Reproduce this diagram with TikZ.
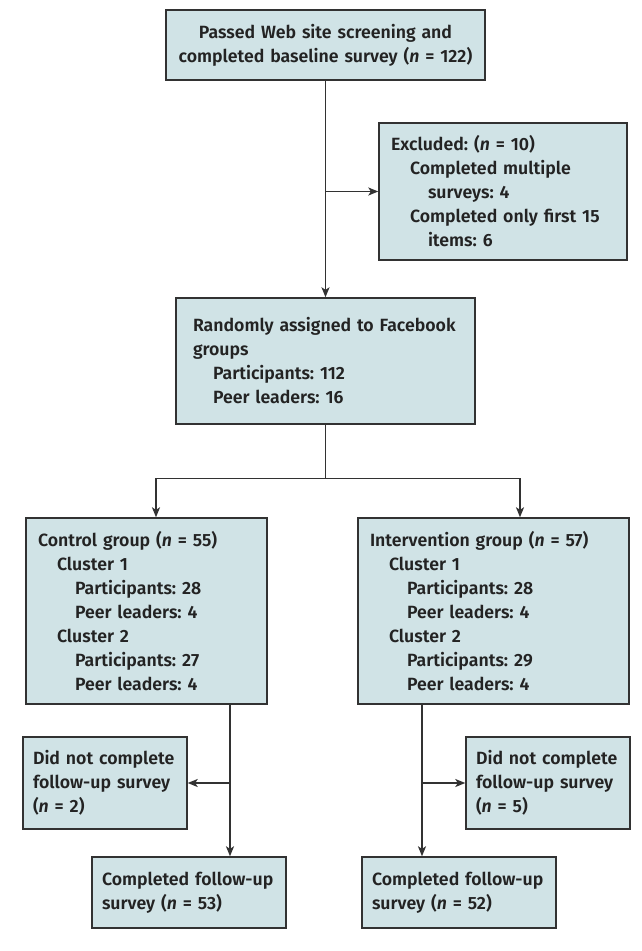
\documentclass[tikz,border=0pt]{standalone}
\usepackage{fontspec}
\setmainfont{Fira Sans}[UprightFont=* SemiBold, ItalicFont=* SemiBold Italic]
\usepackage{xcolor}
\usepackage{tikz}
\usetikzlibrary{arrows.meta, positioning}

\definecolor{boxfill}{RGB}{208,227,230}
\definecolor{boxline}{RGB}{50,50,50}
\definecolor{textcol}{RGB}{35,35,35}

\newcommand{\ia}{\hspace*{19pt}}
\newcommand{\ib}{\hspace*{37pt}}

\tikzset{
    flowbox/.style={draw=boxline, line width=1.4pt, fill=boxfill, text=textcol,
        inner xsep=12pt, inner ysep=4pt, align=left,
        font=\fontsize{17.7}{24}\selectfont\frenchspacing},
    link/.style={draw=boxline, line width=1.4pt, -{Stealth[length=10pt, width=8pt, inset=2.5pt]}},
    plain/.style={draw=boxline, line width=1.4pt}
}

\begin{document}
\begin{tikzpicture}[x=1pt, y=-1pt]

    \useasboundingbox (0,0) rectangle (641,951);

    \node[flowbox, align=center, text width=295pt, minimum height=70pt] (screen) at (325.5,45)
        {Passed Web site screening and\\completed baseline survey (\textit{n} = 122)};
    \node[flowbox, text width=224pt, minimum height=137pt] (excluded) at (503,191.5)
        {Excluded: (\textit{n} = 10)\\\ia Completed multiple\\\ib surveys: 4\\\ia Completed only first 15\\\ib items: 6};
    \node[flowbox, inner xsep=17pt, text width=265pt, minimum height=126pt] (random) at (325.5,361)
        {Randomly assigned to Facebook\\groups\\\hspace*{20pt}Participants: 112\\\hspace*{20pt}Peer leaders: 16};

    \node[flowbox, text width=217pt, minimum height=186pt] (control) at (146.5,611)
        {Control group (\textit{n} = 55)\\\ia Cluster 1\\\ib Participants: 28\\\ib Peer leaders: 4\\\ia Cluster 2\\\ib Participants: 27\\\ib Peer leaders: 4};
    \node[flowbox, text width=247pt, minimum height=186pt] (interv) at (493.5,611)
        {Intervention group (\textit{n} = 57)\\\ia Cluster 1\\\ib Participants: 28\\\ib Peer leaders: 4\\\ia Cluster 2\\\ib Participants: 29\\\ib Peer leaders: 4};

    \node[flowbox, inner xsep=10pt, text width=144pt, minimum height=92pt] (dropA) at (105,783)
        {Did not complete\\follow-up survey\\(\textit{n} = 2)};
    \node[flowbox, inner xsep=10pt, text width=144pt, minimum height=92pt] (dropB) at (548,783)
        {Did not complete\\follow-up survey\\(\textit{n} = 5)};

    \node[flowbox, inner xsep=10pt, text width=174pt, minimum height=71pt] (doneA) at (189,892.5)
        {Completed follow-up\\survey (\textit{n} = 53)};
    \node[flowbox, inner xsep=10pt, text width=174pt, minimum height=71pt] (doneB) at (459,892.5)
        {Completed follow-up\\survey (\textit{n} = 52)};

    % screening to randomisation, with exclusions
    \draw[link] (screen.south) -- (random.north);
    \draw[link] (screen.south |- excluded.west) -- (excluded.west);

    % split into the two arms
    \coordinate (split) at ([yshift=-54pt]random.south);
    \draw[plain] (random.south) -- (split);
    \draw[link] (split) -| ([xshift=9.5pt]control.north);
    \draw[link] (split) -| ([xshift=26.5pt]interv.north);

    % follow-up
    \draw[link] ([xshift=83.5pt]control.south) -- ([xshift=41pt]doneA.north);
    \draw[link] ([xshift=83.5pt]control.south |- dropA.east) -- (dropA.east);
    \draw[link] ([xshift=-71.5pt]interv.south) -- ([xshift=-37pt]doneB.north);
    \draw[link] ([xshift=-71.5pt]interv.south |- dropB.west) -- (dropB.west);

\end{tikzpicture}
\end{document}
